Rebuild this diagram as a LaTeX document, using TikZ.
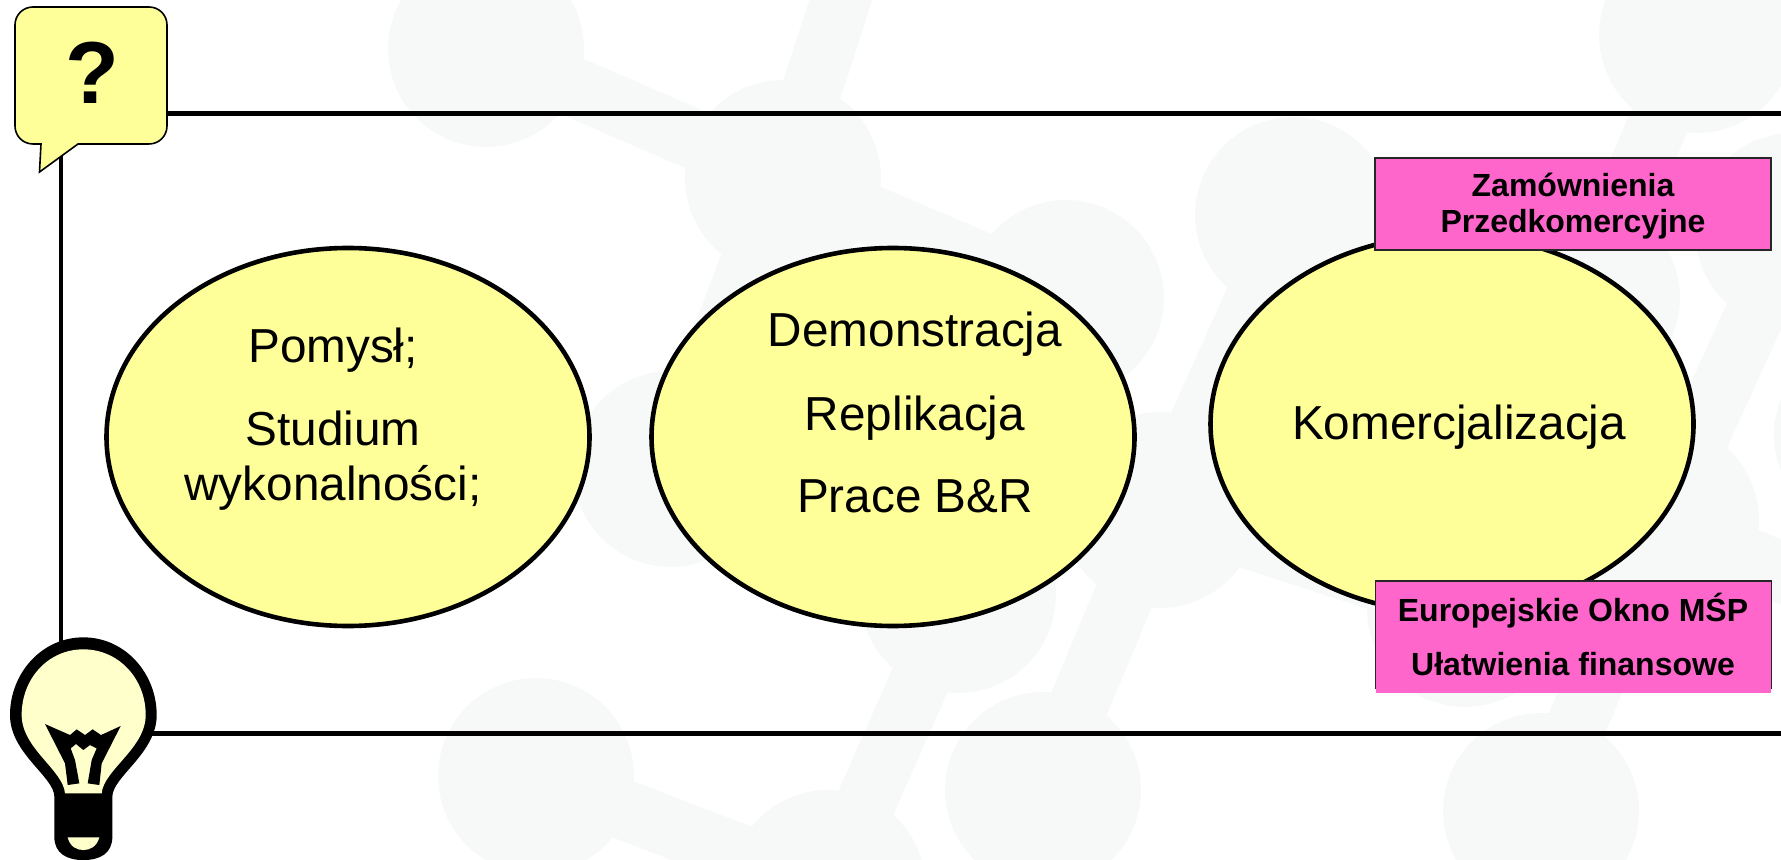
\documentclass[tikz,border=0pt]{standalone}
\usepackage{fontspec}
\setmainfont{Liberation Sans}
\usetikzlibrary{shapes.geometric}
\definecolor{pale}{HTML}{F7F9F8}
\definecolor{oval}{HTML}{FFFF99}
\definecolor{pinkbox}{HTML}{FF66CC}
\definecolor{lampglow}{HTML}{FFFFCC}
\tikzset{
  x=0.5pt,y=-0.5pt,
  atom/.style={circle,fill=pale,draw=none,minimum size=98pt,inner sep=0pt,outer sep=0pt},
  bond/.style={draw=pale,line width=30pt},
  frameline/.style={draw=black,line width=2.5pt},
  stageoval/.style={ellipse,draw=black,line width=2.3pt,fill=oval,minimum width=241.5pt,minimum height=189pt,inner sep=0pt},
  stagetext/.style={anchor=base,font=\fontsize{23.85}{28}\selectfont,inner sep=0pt,text=black},
  tagtext/.style={anchor=base,font=\fontsize{16}{19}\selectfont\bfseries,inner sep=0pt,text=black},
  tagfill/.style={fill=pinkbox,draw=none},
  tagedge/.style={draw=black!85,line width=0.6pt},
}
\begin{document}
\begin{tikzpicture}
\useasboundingbox (0,0) rectangle (1781,860);
\begin{scope}
\clip (0,0) rectangle (1781,860);
% faint molecule watermark
\foreach \n/\px/\py in {A/486/49,B/783/178,C/1066/298,D/671/469,E/1293/215,F/1160/510,G/958/595,H/536/776,K/828/888,J/1043/790,L/1541/811,M/1465/609,Q/1697/35,R/1793/231,S/1582/298,T/1661/520,U/1872/435,V/1960/650}
  \node[atom] (\n) at (\px,\py) {};
\coordinate (W) at (862,-65);
\foreach \a/\b in {A/B,B/C,B/D,B/W,D/G,G/K,H/K,E/F,F/J,F/M,Q/S,E/S,R/T,T/L,T/V}
  \draw[bond] (\a.center) -- (\b.center);
\end{scope}
% frame
\coordinate (frameTR) at (1781,113.5);
\coordinate (frameTL) at (61,113.5);
\coordinate (frameBL) at (61,660);
\coordinate (frameB0) at (150,733);
\coordinate (frameBR) at (1781,733);
\draw[frameline] (frameTR) -- (frameTL);
\draw[draw=black,line width=2pt] (frameTL) -- (frameBL);
\draw[frameline] (frameB0) -- (frameBR);
% ovals
\node[stageoval] (ovalA) at (348,437) {};
\node[stageoval] (ovalB) at (893,437) {};
\node[stageoval] (ovalC) at (1452,424) {};
\node[stagetext] (t1) at (333,363) {Pomysł;};
\node[stagetext] (t2) at (333,446) {Studium};
\node[stagetext] (t3) at (333,501) {wykonalności;};
\node[stagetext] (t4) at (915,347) {Demonstracja};
\node[stagetext] (t5) at (915,431) {Replikacja};
\node[stagetext] (t6) at (915,512) {Prace B\&R};
\node[stagetext] (t7) at (1459,440) {Komercjalizacja};
% pink boxes
\path[tagfill,tagedge] (1375,158) rectangle (1771,250);
\path[tagfill] (1376,581) rectangle (1771,693);
\draw[tagedge] (1375.5,689) -- (1375.5,581) -- (1771.5,581) -- (1771.5,689);
\node[tagtext] (b1) at (1573,197) {Zamównienia};
\node[tagtext] (b2) at (1573,233) {Przedkomercyjne};
\node[tagtext] (b3) at (1573,621) {Europejskie Okno MŚP};
\node[tagtext] (b4) at (1573,675) {Ułatwienia finansowe};
% speech bubble
\draw[fill=oval,draw=black,line width=0.8pt]
  (33,7) -- (149,7) .. controls (159,7) and (167,15) .. (167,25) -- (167,126)
  .. controls (167,136) and (159,144) .. (149,144) -- (78,144) -- (39.5,172) -- (41,144) -- (33,144)
  .. controls (23,144) and (15,136) .. (15,126) -- (15,25)
  .. controls (15,15) and (23,7) .. (33,7) -- cycle;
\node[anchor=base,inner sep=0pt,font=\fontsize{44}{48}\selectfont\bfseries] (qmark) at (92,104) {?};
% light bulb
\begin{scope}[shift={(0,620)},x=0.1667pt,y=-0.1667pt]
\fill[black] (250,52) .. controls (375,52) and (470,160) .. (470,285)
  .. controls (470,400) and (337,470) .. (337,530) -- (337,650)
  .. controls (337,700) and (300,720) .. (250,720)
  .. controls (200,720) and (163,700) .. (163,650) -- (163,530)
  .. controls (163,470) and (30,400) .. (30,285)
  .. controls (30,160) and (125,52) .. (250,52) -- cycle;
\fill[lampglow] (250,88) .. controls (355,88) and (437,175) .. (437,285)
  .. controls (437,385) and (310,450) .. (305,520) -- (195,520)
  .. controls (190,450) and (65,385) .. (65,285)
  .. controls (65,175) and (145,88) .. (250,88) -- cycle;
\fill[lampglow] (203,652) -- (298,652) .. controls (290,680) and (270,690) .. (250,690)
  .. controls (230,690) and (210,680) .. (203,652) -- cycle;
\fill[black] (135,312) -- (210,345) -- (230,328) -- (255,345) -- (278,328) -- (303,345) -- (362,318)
  -- (305,430) -- (298,495) -- (263,490) -- (275,420) -- (290,385) -- (270,375) -- (250,390)
  -- (228,372) -- (212,385) -- (225,420) -- (238,490) -- (203,495) -- (195,430) -- cycle;
\end{scope}
\end{tikzpicture}
\end{document}
